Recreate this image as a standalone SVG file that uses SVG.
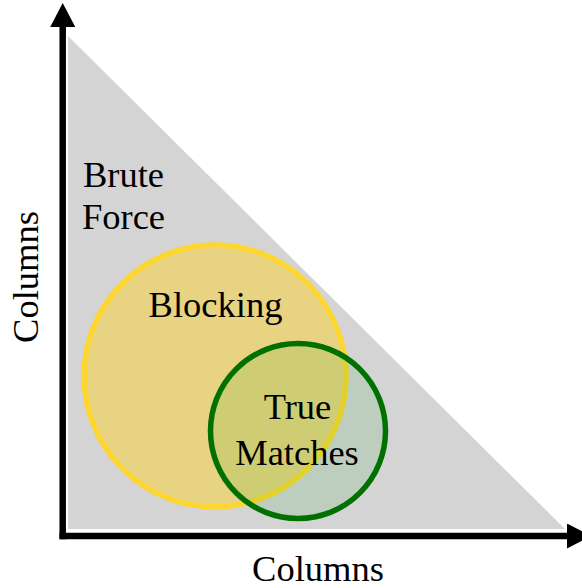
<svg xmlns="http://www.w3.org/2000/svg" width="582" height="588" viewBox="0 0 582 588">
<style>
text{font-family:"Liberation Serif","Times New Roman",serif;font-size:36.5px;fill:#000;text-anchor:middle}
.axis{stroke:#000;stroke-width:6.5;fill:none}
</style>
<defs>
<marker id="arr" viewBox="0 0 24 25" refX="0" refY="12.5" markerWidth="24" markerHeight="25" markerUnits="userSpaceOnUse" orient="auto">
<path d="M0,0 L24,12.5 L0,25 Z" fill="#000"/>
</marker>
</defs>
<g id="bruteforce">
<polygon points="68,36 68,529 565,529" fill="#d4d4d4"/>
<text x="123.5" y="187">Brute</text>
<text x="123.5" y="229">Force</text>
</g>
<g id="blocking">
<circle cx="215" cy="376" r="131" fill="#ffd21e" fill-opacity="0.45" stroke="#fdd630" stroke-width="5.5"/>
<text x="215.5" y="317">Blocking</text>
</g>
<g id="truematches">
<circle cx="298" cy="431" r="87.5" fill="#00a000" fill-opacity="0.1" stroke="#007000" stroke-width="5.5"/>
<text x="297.5" y="419">True</text>
<text x="297" y="465">Matches</text>
</g>
<g id="connectors">
<line class="axis" x1="62.7" y1="539.3" x2="62.7" y2="27" marker-end="url(#arr)"/>
<line class="axis" x1="59.5" y1="536" x2="567" y2="536" marker-end="url(#arr)"/>
</g>
<g id="labels">
<text x="318" y="581">Columns</text>
<text transform="translate(38,277) rotate(-90)">Columns</text>
</g>
</svg>
